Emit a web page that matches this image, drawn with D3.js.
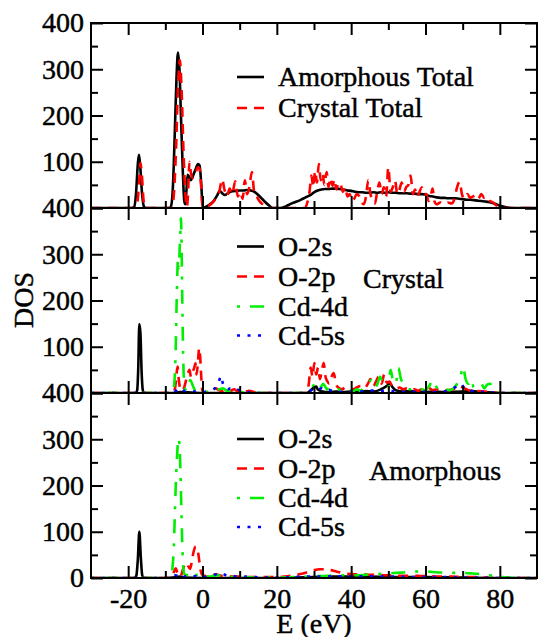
<!DOCTYPE html>
<html>
<head>
<meta charset="utf-8">
<script src="https://cdn.jsdelivr.net/npm/d3@7"></script>
<style>
html,body{margin:0;padding:0;background:#fff;}
svg{display:block;}
</style>
</head>
<body>
<script>
// ---------------- DATA ----------------
const xDomain = [-30, 90];
const yDomain = [0, 400];
const xMajorTicks = [-20, 0, 20, 40, 60, 80];
const xMinorTicks = [-10, 10, 30, 50, 70];
const yMajorTicks = [0, 100, 200, 300, 400];
const yMinorTicks = [50, 150, 250, 350];
const xLabel = "E (eV)";
const yLabel = "DOS";

// Panel 1 : totals
const amorphousTotal = [[-30,0],[-19,0],[-18.4,2],[-17.9,30],[-17.4,95],[-17.1,115],[-16.8,95],[-16.3,35],[-15.8,4],[-15.3,0],
[-9,0],[-8.5,3],[-8.0,40],[-7.5,150],[-7.0,280],[-6.6,336],[-6.2,300],[-5.8,200],[-5.3,80],[-4.9,15],[-4.6,8],
[-4.3,40],[-4.0,72],[-3.6,68],[-3.2,60],[-2.8,65],[-2.3,75],[-1.8,85],[-1.2,95],[-0.8,92],[-0.4,60],[0,8],[0.3,0],
[1,3],[2,8],[3,15],[4,28],[4.6,37],[5.3,32],[6,28],[7,33],[8,36],[9,37],[10,38],[11,38],[12,39],[13,38],[14,35],[15,28],[16,20],[17,12],[18,5],[18.8,0],
[21,0],[22,2],[23,6],[24,10],[25,13],[26,16],[27,20],[28,24],[29,28],[30,34],[31,38],[32,40],[33,41],[34,41],[35,42],[36,42],[37,41],[38,40],[39,38],[40,37],[41,35],[42,34],[43,34],[44,33],[45,33],[46,34],[47,33],[48,34],[49,33],[50,34],[51,33],[52,33],[53,32],[54,32],[55,32],[56,31],[57,31],[58,30],[59,30],[60,29],[61,26],[62,25],[63,23],[64,22],[65,22],[66,21],[67,21],[68,21],[69,20],[70,19],[71,18],[72,18],[73,17],[74,16],[75,15],[76,14],[77,13],[78,11],[79,8],[80,5],[81,3],[82,1],[83,0],[90,0]];

const crystalTotal = [[-30,0],[-18.3,0],[-17.6,8],[-17.1,50],[-16.7,97],[-16.3,70],[-15.9,20],[-15.5,0],
[-8.3,0],[-7.8,20],[-7.2,110],[-6.6,260],[-6.1,320],[-5.6,250],[-5.1,120],[-4.6,30],[-4.2,2],[-3.9,30],[-3.5,100],[-3.1,75],[-2.7,65],[-2.2,70],[-1.7,80],[-1.2,88],[-0.8,85],[-0.4,50],[0,5],[0.4,0],
[1.5,4],[2.5,10],[3.5,20],[4.5,35],[5.3,62],[5.9,40],[6.6,25],[7.3,42],[8.0,30],[8.8,58],[9.5,25],[10.2,35],[10.8,20],[11.4,60],[12.0,30],[12.6,45],[13.3,78],[13.9,35],[14.6,25],[15.3,15],[16.2,8],[17,3],[18,0],
[27.5,0],[28.3,15],[28.8,35],[29.3,70],[29.8,45],[30.3,80],[30.8,55],[31.3,95],[31.8,60],[32.3,75],[32.8,50],[33.4,78],[33.9,45],[34.4,65],[35,48],[35.5,62],[36,40],[36.6,55],[37.2,50],[37.8,35],[38.4,45],[39,25],[39.6,30],[40.2,15],[40.8,20],[41.5,30],[42.2,25],[42.8,12],[43.4,8],[44,25],[44.6,60],[45.2,30],[45.8,15],[46.4,10],[47,35],[47.6,55],[48.2,30],[48.8,45],[49.4,25],[50,88],[50.6,35],[51.2,45],[51.8,60],[52.4,30],[53,40],[53.6,55],[54.2,35],[54.8,45],[55.4,50],[56,70],[56.6,30],[57.2,40],[57.8,25],[58.4,35],[59,45],[59.6,30],
[60.2,30],[60.8,15],[61.4,25],[61.9,42],[62.4,15],[63,8],[64,12],[65,8],[66,12],[67,10],[67.8,20],[68.5,45],[69.2,57],[69.8,30],[70.5,20],[71.3,30],[72,22],[72.8,25],[73.5,28],[74.2,20],[75,30],[75.8,22],[76.6,25],[77.4,15],[78.2,12],[79,6],[80,2],[81,0],[90,0]];

// Panel 2 : crystal projected DOS
const crystalO2s = [[-30,0],[-18,0],[-17.6,5],[-17.3,50],[-17.0,149],[-16.7,130],[-16.4,50],[-16.1,8],[-15.8,0],
[-8,0],[-6,2],[0,0],[28,0],[29,5],[30,12],[30.6,14],[31,8],[32,4],[34,2],[36,3],[38,2],[40,3],[42,2],[44,4],[46,3],[48,8],[49.5,15],[50.4,20],[51.2,12],[52,6],[54,3],[56,4],[58,3],[60,2],[62,3],[65,2],[70,3],[72,5],[75,2],[78,1],[80,0],[90,0]];

const crystalO2p = [[-30,0],[-8,0],[-7.4,10],[-7.0,40],[-6.7,57],[-6.4,30],[-6.0,10],[-5.5,5],[-5,10],[-4.5,25],[-4.0,40],[-3.5,50],[-3.1,35],[-2.7,45],[-2.2,55],[-1.9,64],[-1.6,40],[-1.2,70],[-0.9,97],[-0.6,75],[-0.3,30],[0,5],[0.5,0],
[1.5,3],[2.5,6],[3.5,10],[4.5,6],[5.5,4],[6.5,8],[7.5,5],[8.5,8],[9.5,4],[10.5,6],[11.5,3],[12.5,5],[14,2],[16,0],
[28,0],[28.6,20],[29.1,55],[29.6,35],[30.1,65],[30.6,40],[31.1,55],[31.6,30],[32.1,48],[32.6,65],[33.1,35],[33.6,25],[34.1,20],[34.7,35],[35.3,43],[35.9,20],[36.5,12],[37.5,8],[38.5,12],[39.5,10],[40.5,8],[41.5,12],[42.5,15],[43.5,10],[44.5,20],[45.2,30],[46,15],[46.7,25],[47.4,35],[48.2,20],[48.9,40],[49.6,22],[50.3,25],[51,15],[52,10],[53,12],[54,8],[55,10],[56,6],[57,8],[58,5],[59,8],[60,5],[61,10],[62,6],[63,8],[64,5],[66,6],[68,10],[69,15],[70,12],[71,8],[72,5],[74,4],[76,3],[78,2],[80,0],[90,0]];

const crystalCd4d = [[-30,0],[-8.5,0],[-7.9,5],[-7.5,30],[-7.2,100],[-7.0,180],[-6.8,250],[-6.6,290],[-6.4,270],[-6.2,300],[-6.0,340],[-5.8,378],[-5.6,300],[-5.4,180],[-5.2,80],[-5.0,30],[-4.7,10],[-4.2,5],[-3.8,15],[-3.3,28],[-2.8,20],[-2.3,10],[-1.8,6],[-1.2,8],[-0.5,3],[0.5,2],[2,3],[3.5,6],[4.5,8],[5.5,10],[6.5,5],[8,3],[10,2],[14,0],
[27,0],[28.5,5],[29.5,12],[30.5,22],[31.5,10],[32.5,20],[33.5,8],[34.5,12],[35.5,6],[36.5,8],[37.5,5],[38.5,8],[39.5,6],[40.5,4],[41.5,8],[42.5,5],[43.5,12],[44.5,20],[45.5,28],[46.2,12],[47,18],[47.8,35],[48.5,20],[49.2,15],[50,12],[50.6,50],[51.3,25],[52,20],[52.7,54],[53.4,30],[54.2,20],[55,10],[56,8],[57,12],[58,10],[59,8],[60,6],[61,15],[62,28],[62.8,15],[63.5,8],[64.5,5],[65.5,8],[66.5,6],[67.5,10],[68.5,20],[69.4,35],[70.1,57],[70.8,30],[71.6,20],[72.3,30],[73,12],[74,18],[75,20],[75.8,10],[76.6,18],[77.4,20],[78.2,5],[79,2],[80,0],[90,0]];

const crystalCd5s = [[-30,0],[-8,0],[-7.3,3],[-6.8,8],[-6.2,5],[-5.5,8],[-4.8,4],[-4,6],[-3,4],[-2,3],[-1,2],[0,1],[1,3],[2,5],[3,8],[3.8,15],[4.4,25],[5.0,37],[5.5,20],[6.0,12],[6.8,8],[7.5,10],[8.5,5],[9.5,7],[10.5,4],[12,2],[14,0],
[28,0],[29,5],[30,8],[31,6],[32,10],[33,5],[34,7],[35,4],[36,3],[38,2],[40,3],[42,4],[44,3],[46,6],[48,4],[50,5],[52,3],[54,2],[56,3],[58,2],[60,3],[62,2],[64,3],[66,5],[67.5,10],[68.5,15],[69.5,20],[70.5,10],[72,5],[74,3],[76,2],[78,1],[80,0],[90,0]];

// Panel 3 : amorphous projected DOS
const amorphousO2s = [[-30,0],[-18.2,0],[-17.8,5],[-17.4,40],[-17.0,100],[-16.6,45],[-16.2,5],[-15.8,0],[-10,0],[-7,2],[-6,3],[-5,1],[0,0],[20,0],[25,1],[30,2],[35,3],[40,3],[45,3],[50,2],[55,2],[60,2],[70,1],[80,0],[90,0]];

const amorphousO2p = [[-30,0],[-9,0],[-8.2,3],[-7.6,15],[-7.2,21],[-6.8,12],[-6.3,3],[-5.8,5],[-5.3,18],[-4.8,28],[-4.3,33],[-3.8,25],[-3.3,20],[-2.8,40],[-2.3,60],[-1.8,68],[-1.4,65],[-1.0,45],[-0.6,20],[-0.2,8],[0.5,5],[1.5,3],[2.5,5],[3.5,8],[4.5,6],[5.5,4],[6.5,5],[8,3],[10,3],[12,2],[15,2],[18,2],[20,2],[22,3],[24,5],[26,8],[28,12],[30,17],[31.5,19],[33,19],[34.5,17],[36,14],[37.5,11],[39,9],[41,8],[43,8],[45,7],[47,7],[49,6],[51,6],[53,5],[55,5],[57,5],[59,4],[61,4],[63,3],[65,3],[67,3],[70,2],[73,2],[76,1],[80,0],[90,0]];

const amorphousCd4d = [[-30,0],[-9,0],[-8.5,3],[-8.1,20],[-7.7,70],[-7.4,150],[-7.1,220],[-6.8,270],[-6.5,302],[-6.2,290],[-5.9,220],[-5.6,120],[-5.3,40],[-5.0,12],[-4.6,5],[-4.0,8],[-3.5,12],[-3.0,15],[-2.5,10],[-2,6],[-1.2,8],[-0.5,10],[0,6],[1,4],[2,3],[3,5],[4,6],[5,5],[6,4],[7,3],[8,2],[10,2],[15,1],[20,1],[25,2],[28,3],[30,4],[32,4],[34,5],[36,6],[38,6],[40,6],[42,6],[44,7],[46,8],[48,9],[50,10],[52,11],[54,12],[56,13],[58,14],[60,14],[62,13],[64,12],[66,12],[68,11],[70,11],[72,10],[74,9],[76,7],[78,5],[80,3],[82,1],[84,0],[90,0]];

const amorphousCd5s = [[-30,0],[-9,0],[-8,2],[-7.2,6],[-6.5,4],[-5.8,8],[-5,3],[-4,5],[-3,3],[-2,4],[-1,2],[0,3],[1,2],[2,4],[3,6],[4,9],[5,12],[6,7],[7,4],[8,5],[9,3],[10,2],[12,3],[14,2],[16,1],[20,1],[24,2],[28,3],[32,3],[36,4],[40,3],[44,4],[48,3],[52,3],[56,2],[60,2],[65,2],[70,1],[75,1],[80,0],[90,0]];

const panel1Names = ["Amorphous Total", "Crystal Total"];
const pdosNames = ["O-2s", "O-2p", "Cd-4d", "Cd-5s"];
const panelTitles = ["", "Crystal", "Amorphous"];

// ---------------- STYLES ----------------
const styles = {
  solid: {color: "#000000", dash: null},
  dashed: {color: "#ff0000", dash: "10,7"},
  dotdash: {color: "#00ee00", dash: "3,10,14,10"},
  dotted: {color: "#0000ff", dash: "3,7.5"}
};

const panels = [
  {top: 23, series: [amorphousTotal, crystalTotal], names: panel1Names, st: ["solid","dashed"],
   legendY: [77, 108], title: panelTitles[0]},
  {top: 208, series: [crystalO2s, crystalO2p, crystalCd4d, crystalCd5s], names: pdosNames, st: ["solid","dashed","dotdash","dotted"],
   legendY: [246.5, 276.5, 306.5, 335.5], title: panelTitles[1], titleX: 363, titleY: 279},
  {top: 393, series: [amorphousO2s, amorphousO2p, amorphousCd4d, amorphousCd5s], names: pdosNames, st: ["solid","dashed","dotdash","dotted"],
   legendY: [439, 468.5, 498, 527], title: panelTitles[2], titleX: 369, titleY: 471}
];

const W = 538, H = 637;
const left = 91, right = 537, ph = 185;
const FONT = '"Liberation Serif"';
const FS = "28px";

const svg = d3.select("body").append("svg").attr("width", W).attr("height", H)
  .style("background", "#fff");

const x = d3.scaleLinear().domain(xDomain).range([left, right]);

function fontify(sel) {
  return sel.style("font-family", FONT).style("font-size", FS).attr("fill", "#000")
    .attr("stroke", "#000").attr("stroke-width", 0.45);
}

panels.forEach((p, i) => {
  const bottom = p.top + ph;
  const y = d3.scaleLinear().domain(yDomain).range([bottom, p.top]);
  const g = svg.append("g");
  const clipId = "clip" + i;
  g.append("clipPath").attr("id", clipId).append("rect")
    .attr("x", left).attr("y", p.top).attr("width", right - left).attr("height", ph);

  const line = d3.line().x(d => x(d[0])).y(d => y(d[1])).curve(d3.curveMonotoneX);
  const dg = g.append("g").attr("clip-path", `url(#${clipId})`);
  p.series.forEach((s, k) => {
    const st = styles[p.st[k]];
    dg.append("path").datum(s).attr("d", line)
      .attr("fill", "none").attr("stroke", st.color).attr("stroke-width", 2.6)
      .attr("stroke-linejoin", "round")
      .attr("stroke-dasharray", st.dash);
  });

  const isLast = i === panels.length - 1;
  const styleAxis = sel => {
    sel.select(".domain").remove();
    sel.selectAll("line").attr("stroke", "#000").attr("stroke-width", 2);
    sel.attr("font-family", null).attr("font-size", null);
    fontify(sel.selectAll("text"));
  };
  g.append("g").attr("transform", `translate(0,${bottom})`)
    .call(d3.axisBottom(x).tickValues(xMajorTicks).tickSize(-12).tickPadding(10)
      .tickFormat(d => isLast ? String(d) : ""))
    .call(styleAxis);
  g.append("g").attr("transform", `translate(0,${bottom})`)
    .call(d3.axisBottom(x).tickValues(xMinorTicks).tickSize(-7).tickFormat(""))
    .call(styleAxis);
  g.append("g").attr("transform", `translate(0,${p.top})`)
    .call(d3.axisTop(x).tickValues(xMajorTicks).tickSize(-12).tickFormat(""))
    .call(styleAxis);
  g.append("g").attr("transform", `translate(0,${p.top})`)
    .call(d3.axisTop(x).tickValues(xMinorTicks).tickSize(-7).tickFormat(""))
    .call(styleAxis);
  g.append("g").attr("transform", `translate(${left},0)`)
    .call(d3.axisLeft(y).tickValues(yMajorTicks).tickSize(-12).tickPadding(7)
      .tickFormat(d => (d === 0 && !isLast) ? "" : String(d)))
    .call(styleAxis);
  g.append("g").attr("transform", `translate(${left},0)`)
    .call(d3.axisLeft(y).tickValues(yMinorTicks).tickSize(-7).tickFormat(""))
    .call(styleAxis);
  g.append("g").attr("transform", `translate(${right},0)`)
    .call(d3.axisRight(y).tickValues(yMajorTicks).tickSize(-12).tickFormat(""))
    .call(styleAxis);
  g.append("g").attr("transform", `translate(${right},0)`)
    .call(d3.axisRight(y).tickValues(yMinorTicks).tickSize(-7).tickFormat(""))
    .call(styleAxis);

  g.append("rect").attr("x", left).attr("y", p.top).attr("width", right - left).attr("height", ph)
    .attr("fill", "none").attr("stroke", "#000").attr("stroke-width", 2);

  p.names.forEach((n, k) => {
    const st = styles[p.st[k]];
    const ly = p.legendY[k];
    g.append("line").attr("x1", 237).attr("x2", 264).attr("y1", ly).attr("y2", ly)
      .attr("stroke", st.color).attr("stroke-width", 2.6).attr("stroke-dasharray", st.dash);
    fontify(g.append("text").attr("x", 278).attr("y", ly).attr("dy", "0.33em")).text(n);
  });
  if (p.title) {
    fontify(g.append("text").attr("x", p.titleX).attr("y", p.titleY).attr("dy", "0.33em")).text(p.title);
  }
});

fontify(svg.append("text").attr("transform", "translate(33,300) rotate(-90)")
  .attr("text-anchor", "middle")).text(yLabel);
fontify(svg.append("text").attr("x", (left + right) / 2).attr("y", 633)
  .attr("text-anchor", "middle")).text(xLabel);
</script>
</body>
</html>
